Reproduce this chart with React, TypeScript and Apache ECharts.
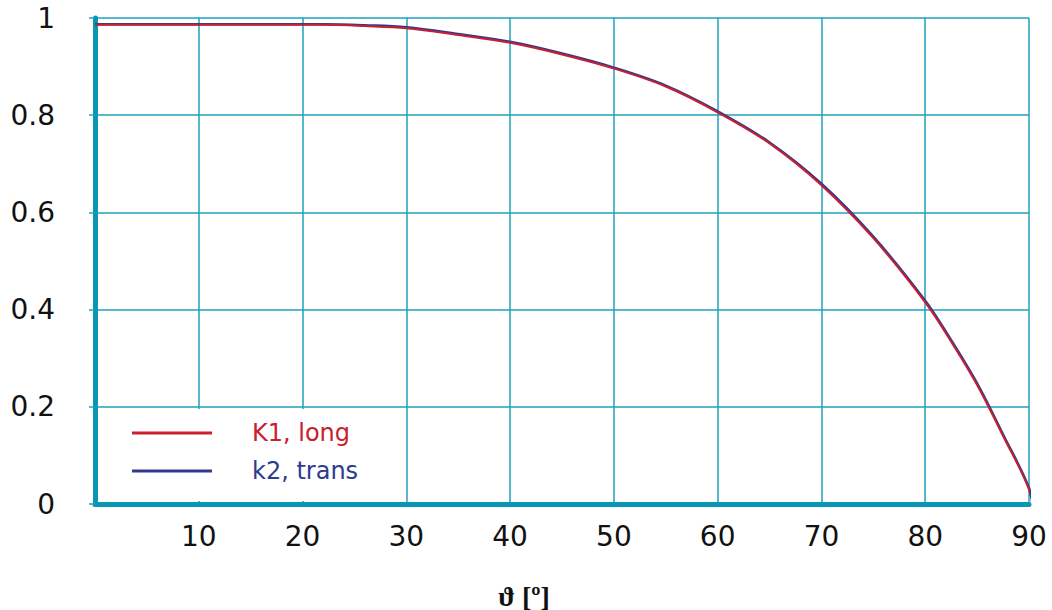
import React, { useEffect, useRef } from "react";
import * as echarts from "echarts";

const angles = [0, 10, 20, 22, 26, 30, 35, 40, 45, 50, 55, 60, 65, 70, 75, 80, 82.5, 85, 87.5, 90, 90.4];
const k1Long = [0.986, 0.986, 0.986, 0.986, 0.9835, 0.979, 0.965, 0.949, 0.925, 0.896, 0.859, 0.806, 0.742, 0.656, 0.547, 0.415, 0.334, 0.245, 0.14, 0.03, -0.022];
const k2Trans = [0.987, 0.987, 0.987, 0.987, 0.985, 0.981, 0.967, 0.951, 0.927, 0.898, 0.861, 0.808, 0.744, 0.659, 0.55, 0.418, 0.337, 0.248, 0.143, 0.033, -0.019];
const seriesNames = ["K1, long", "k2, trans"];
const xTicks = [0, 10, 20, 30, 40, 50, 60, 70, 80, 90];
const axisTitle = "ϑ [º]";

const TEAL = "#0797b4";
const GRIDC = "#1fa2be";
const RED = "#c8202f";
const BLUE = "#2e3a8f";
const FONT = "DejaVu Sans";

export default function App() {
  const ref = useRef<HTMLDivElement>(null);
  useEffect(() => {
    if (!ref.current) return;
    const chart = echarts.init(ref.current, undefined, { renderer: "svg" });
    const pts = (arr: number[]) => angles.map((a, i) => [a, arr[i]]);
    chart.setOption({
      animation: false,
      backgroundColor: "#ffffff",
      grid: { left: 95, right: 23, top: 18, bottom: 106 },
      legend: {
        data: [
          { name: seriesNames[0], textStyle: { color: RED } },
          { name: seriesNames[1], textStyle: { color: BLUE } },
        ],
        orient: "vertical",
        left: 127,
        top: 416,
        itemWidth: 80,
        itemHeight: 3,
        itemGap: 14,
        icon: "rect",
        z: 10,
        textStyle: { fontFamily: FONT, fontSize: 24, padding: [0, 0, 0, 35] },
      },
      xAxis: {
        type: "value",
        min: xTicks[0],
        max: xTicks[xTicks.length - 1],
        interval: 10,
        axisLine: { show: true, lineStyle: { color: TEAL, width: 5 } },
        axisTick: { show: false },
        splitLine: { show: true, lineStyle: { color: GRIDC, width: 1.5 } },
        axisLabel: {
          margin: 18,
          fontFamily: FONT,
          fontSize: 28,
          color: "#111",
          formatter: (v: number) => (v === 0 ? "" : String(v)),
        },
      },
      yAxis: {
        type: "value",
        min: 0,
        max: 1,
        interval: 0.2,
        axisLine: { show: true, lineStyle: { color: TEAL, width: 5 } },
        axisTick: { show: true, length: 6, lineStyle: { color: GRIDC, width: 1.5 } },
        splitLine: { show: true, lineStyle: { color: GRIDC, width: 1.5 } },
        axisLabel: { margin: 40, fontFamily: FONT, fontSize: 28, color: "#111" },
      },
      graphic: [
        {
          type: "rect",
          z: 3,
          shape: { x: 98, y: 409, width: 307, height: 92 },
          style: { fill: "#ffffff" },
        },
        {
          type: "text",
          z: 10,
          x: 524,
          y: 596,
          style: {
            text: axisTitle,
            fontFamily: "Liberation Serif",
            fontWeight: "bold",
            fontSize: 28,
            fill: "#111",
            align: "center",
            verticalAlign: "middle",
          },
        },
      ],
      series: [
        {
          name: seriesNames[1],
          type: "line",
          data: pts(k2Trans),
          smooth: 0.35,
          showSymbol: false,
          clip: false,
          z: 4,
          color: BLUE,
          lineStyle: { color: BLUE, width: 2.5 },
          itemStyle: { color: BLUE },
        },
        {
          name: seriesNames[0],
          type: "line",
          data: pts(k1Long),
          smooth: 0.35,
          showSymbol: false,
          clip: false,
          z: 5,
          color: RED,
          lineStyle: { color: RED, width: 2 },
          itemStyle: { color: RED },
        },
      ],
    });
    return () => chart.dispose();
  }, []);
  return (
    <div
      ref={ref}
      style={{ position: "absolute", left: 0, top: 0, width: 1052, height: 610 }}
    />
  );
}
